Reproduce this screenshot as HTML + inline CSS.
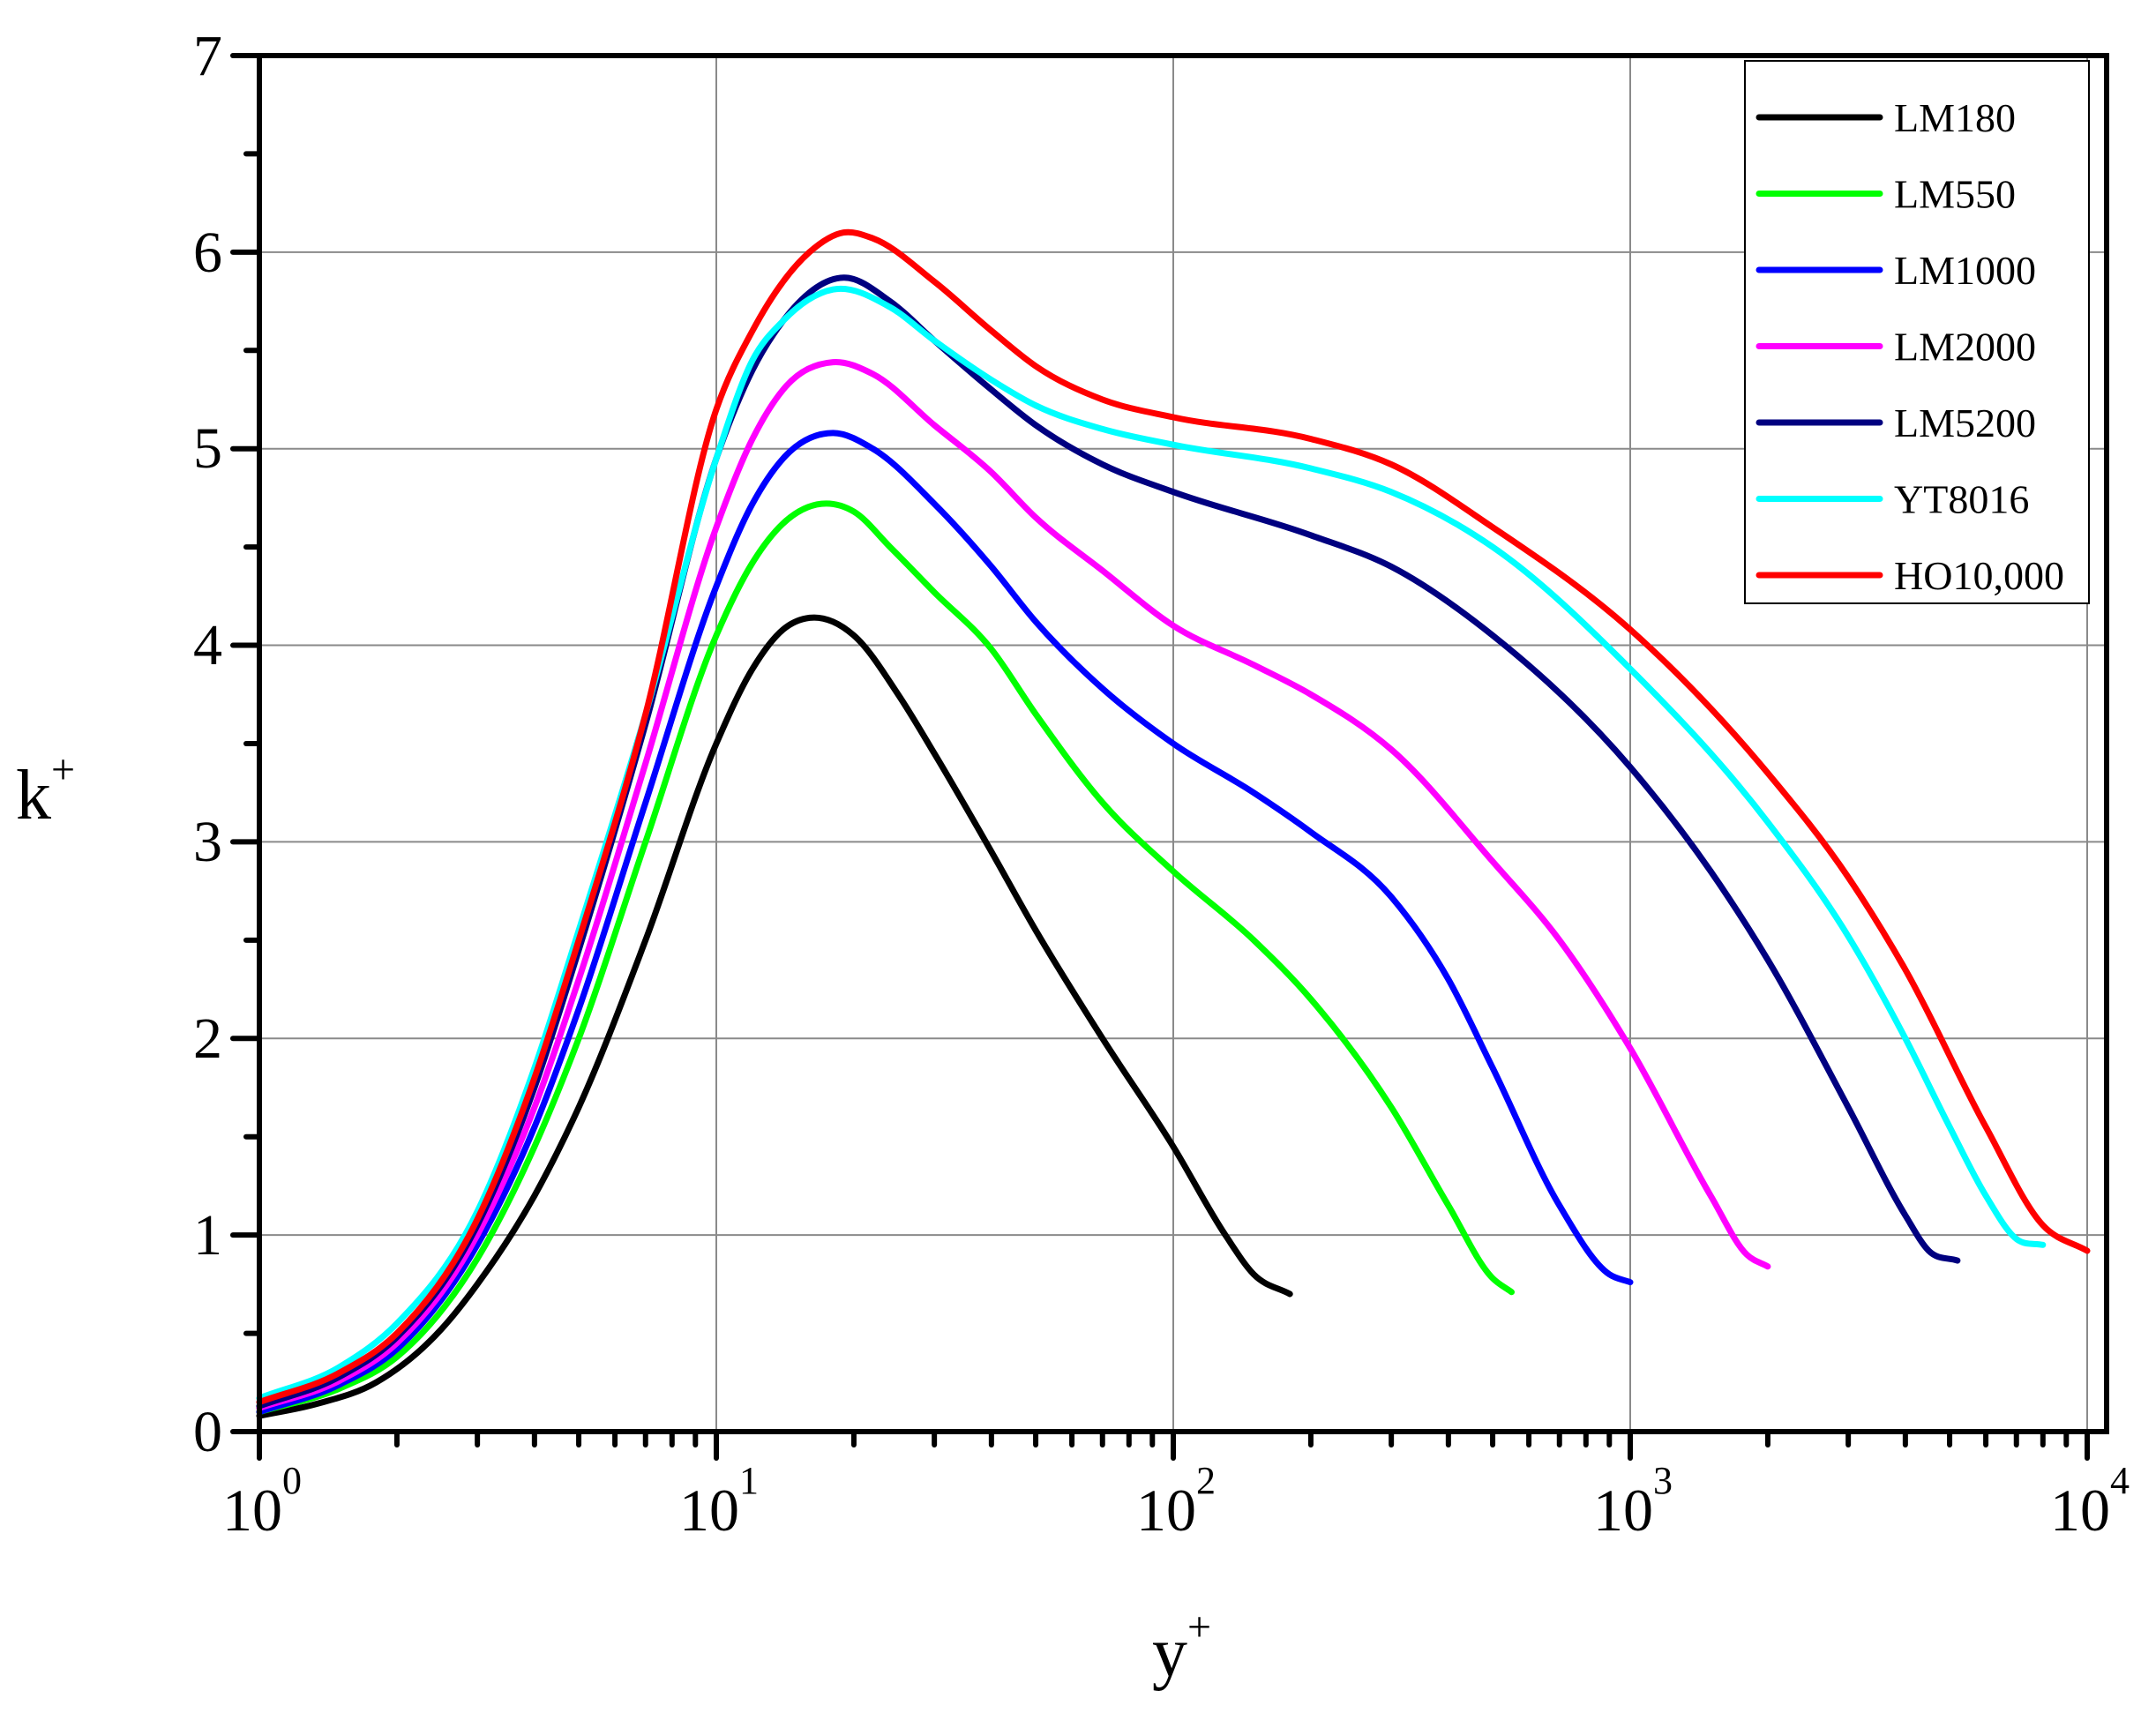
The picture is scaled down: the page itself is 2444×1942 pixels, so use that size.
<!DOCTYPE html>
<html><head><meta charset="utf-8"><style>
html,body{margin:0;padding:0;background:#fff;}
svg{display:block;font-family:"Liberation Serif",serif;}
</style></head><body>
<svg id="s" width="2444" height="1942" viewBox="0 0 2444 1942" xmlns="http://www.w3.org/2000/svg">
<rect width="2444" height="1942" fill="#fff"/>
<g id="grid" stroke="#8a8a8a" stroke-width="2"></g>
<g id="curves" fill="none" stroke-width="7" stroke-linejoin="round" stroke-linecap="round"></g>
<g id="axes" stroke="#000" stroke-width="6" stroke-linecap="round"></g>
<rect x="294" y="63" width="2094" height="1560" fill="none" stroke="#000" stroke-width="6"/>
<g id="legend">
<rect x="1978" y="69" width="390" height="615" fill="#fff" stroke="#000" stroke-width="2"/>
</g>
<g font-size="66" text-anchor="end" fill="#000">
<text x="252" y="1645">0</text><text x="252" y="1422">1</text><text x="252" y="1199">2</text>
<text x="252" y="976">3</text><text x="252" y="753">4</text><text x="252" y="530">5</text>
<text x="252" y="308">6</text><text x="252" y="85">7</text>
</g>
<g font-size="68" fill="#000">
<text x="252" y="1735">10<tspan font-size="44" dy="-42">0</tspan></text>
<text x="770" y="1735">10<tspan font-size="44" dy="-42">1</tspan></text>
<text x="1288" y="1735">10<tspan font-size="44" dy="-42">2</tspan></text>
<text x="1806" y="1735">10<tspan font-size="44" dy="-42">3</tspan></text>
<text x="2324" y="1735">10<tspan font-size="44" dy="-42">4</tspan></text>
<text x="18" y="928" font-size="80">k<tspan font-size="48" dy="-40">+</tspan></text>
<text x="1306" y="1900" font-size="80">y<tspan font-size="48" dy="-40">+</tspan></text>
</g>
</svg>
<script>
var NS="http://www.w3.org/2000/svg";
function X(v){return 294+518*Math.log10(v);}
function Y(k){return 1623-222.86*k;}
function el(p,t,a){var e=document.createElementNS(NS,t);for(var k in a)e.setAttribute(k,a[k]);p.appendChild(e);return e;}
var grid=document.getElementById('grid'),axes=document.getElementById('axes');
[10,100,1000,10000].forEach(function(v){el(grid,'line',{x1:X(v),x2:X(v),y1:63,y2:1623});});
for(var k=1;k<=6;k++)el(grid,'line',{x1:294,x2:2388,y1:Y(k),y2:Y(k)});
for(var i=0;i<=14;i++){var y=Y(i/2);el(axes,'line',{x1:i%2?279:264,x2:294,y1:y,y2:y});}
for(var d=0;d<4;d++)for(var m=1;m<10;m++){var x=X(m*Math.pow(10,d));el(axes,'line',{x1:x,x2:x,y1:1623,y2:m==1?1653:1638});}
el(axes,'line',{x1:X(10000),x2:X(10000),y1:1623,y2:1653});
var S=[
["#000",[[1,.08],[1.33,.14],[1.8,.25],[2.5,.52],[3,.75],[4,1.2],[5,1.65],[7,2.5],[10,3.5],[12,3.88],[14,4.08],[16,4.14],[18,4.12],[20,4.05],[25,3.75],[30,3.45],[40,2.95],[50,2.55],[70,2.0],[100,1.45],[130,1.0],[150,.8],[180,.7]]],
["#00ff00",[[1,.1],[1.5,.22],[2,.38],[3,.88],[4,1.45],[5,2.0],[7,3.0],[10,4.05],[12,4.42],[14,4.62],[17,4.72],[20,4.68],[24,4.5],[30,4.27],[40,3.98],[50,3.65],[70,3.2],[100,2.85],[150,2.5],[200,2.2],[300,1.65],[400,1.15],[500,.78],[550,.71]]],
["#0000ff",[[1,.1],[1.5,.24],[2,.42],[3,.95],[4,1.55],[5,2.15],[7,3.2],[10,4.3],[12,4.72],[14,4.95],[18,5.08],[22,5.0],[30,4.72],[40,4.4],[50,4.12],[70,3.78],[100,3.5],[150,3.25],[200,3.05],[300,2.72],[400,2.3],[500,1.85],[700,1.15],[900,.8],[1000,.76]]],
["#ff00ff",[[1,.12],[1.5,.26],[2,.45],[3,1.0],[4,1.65],[5,2.3],[7,3.4],[10,4.6],[12,5.05],[14,5.3],[18,5.44],[22,5.38],[30,5.12],[40,4.88],[50,4.65],[70,4.38],[100,4.1],[150,3.9],[200,3.75],[300,3.47],[500,2.9],[700,2.5],[1000,1.95],[1500,1.2],[1800,.9],[2000,.84]]],
["#000080",[[1,.13],[1.5,.28],[2,.48],[3,1.05],[4,1.75],[5,2.45],[7,3.6],[10,4.95],[12,5.4],[14,5.65],[19,5.87],[24,5.75],[30,5.55],[40,5.3],[50,5.12],[70,4.92],[100,4.78],[200,4.56],[300,4.4],[500,4.05],[1000,3.38],[1500,2.85],[2000,2.4],[3000,1.65],[4000,1.1],[4500,.92],[5200,.87]]],
["#00ffff",[[1,.17],[1.5,.33],[2,.55],[3,1.12],[4,1.85],[5,2.55],[7,3.65],[10,4.95],[12,5.45],[14,5.65],[18,5.81],[24,5.72],[30,5.55],[40,5.35],[50,5.22],[70,5.1],[100,5.02],[200,4.9],[300,4.78],[500,4.5],[1000,3.88],[2000,3.1],[3000,2.52],[4000,2.0],[5000,1.55],[6000,1.2],[7000,.98],[8000,.95]]],
["#ff0000",[[1,.15],[1.5,.3],[2,.5],[3,1.08],[4,1.8],[5,2.5],[7,3.65],[10,5.2],[12,5.6],[14,5.85],[16,6.0],[19,6.1],[22,6.07],[30,5.85],[40,5.6],[50,5.42],[70,5.25],[100,5.16],[200,5.05],[300,4.92],[500,4.6],[1000,4.08],[2000,3.35],[3000,2.82],[4000,2.35],[6000,1.55],[8000,1.05],[10000,.92]]]
];
var cg=document.getElementById('curves');
S.forEach(function(s){
 var P=s[1].map(function(p){return [X(p[0]),Y(p[1])];}),n=P.length,M=[];
 for(var i=0;i<n;i++){
  if(i==0)M[i]=(P[1][1]-P[0][1])/(P[1][0]-P[0][0]);
  else if(i==n-1)M[i]=(P[i][1]-P[i-1][1])/(P[i][0]-P[i-1][0]);
  else{var h0=P[i][0]-P[i-1][0],h1=P[i+1][0]-P[i][0],d0=(P[i][1]-P[i-1][1])/h0,d1=(P[i+1][1]-P[i][1])/h1;
   M[i]=(d0*h1+d1*h0)/(h0+h1);}
 }
 var d="M"+P[0][0].toFixed(1)+","+P[0][1].toFixed(1);
 for(var i=0;i<n-1;i++){
  var h=(P[i+1][0]-P[i][0])/3;
  d+="C"+(P[i][0]+h).toFixed(1)+","+(P[i][1]+M[i]*h).toFixed(1)+" "+(P[i+1][0]-h).toFixed(1)+","+(P[i+1][1]-M[i+1]*h).toFixed(1)+" "+P[i+1][0].toFixed(1)+","+P[i+1][1].toFixed(1);
 }
 el(cg,'path',{d:d,stroke:s[0]});
});
var names=["LM180","LM550","LM1000","LM2000","LM5200","YT8016","HO10,000"];
var lg=document.getElementById('legend');
names.forEach(function(n,i){var y=133+86.5*i;
 el(lg,'line',{x1:1994,x2:2131,y1:y,y2:y,stroke:S[i][0],"stroke-width":7,"stroke-linecap":"round"});
 var t=el(lg,'text',{x:2147,y:y+16,"font-size":46,fill:"#000"});t.textContent=n;});
</script>
</body></html>
